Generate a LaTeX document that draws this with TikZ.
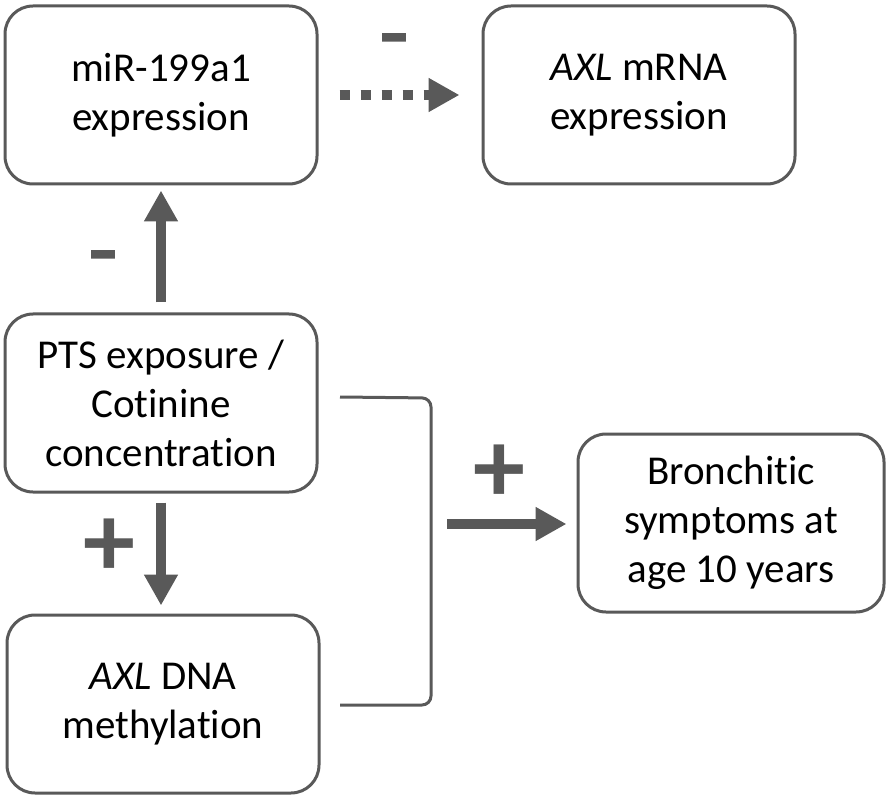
\documentclass[tikz,border=0pt]{standalone}
\usepackage{fontspec}
\setmainfont{Carlito}[Ligatures=NoCommon]
\newfontfamily\signfont{Carlito}[FakeStretch=1.35, FakeBold=2.5]
\usepackage{tikz}
\usetikzlibrary{arrows.meta}
\definecolor{dgray}{HTML}{595959}
\tikzset{box/.style={draw=dgray, line width=3pt, rounded corners=28pt, minimum width=312pt, minimum height=178pt, align=center, inner sep=0pt, font=\fontsize{41}{49}\selectfont},
  sign/.style={text=dgray, inner sep=0pt, font=\fontsize{66}{66}\signfont\bfseries},
  plus/.style={text=dgray, inner sep=0pt, font=\fontsize{104}{104}\selectfont\bfseries},
  fat/.style={dgray, line width=10pt, -{Triangle[width=32pt,length=31pt]}}}

\begin{document}
\begin{tikzpicture}[x=1pt,y=-1pt]
\useasboundingbox (0,0) rectangle (896,799);
% boxes
\node[box] (mir) at (161,95) {miR-199a1\\expression};
\node[box] (mrna) at (639,95) {\textit{AXL} mRNA\\expression};
\node[box] (pts) at (161,403) {PTS exposure /\\Cotinine\\concentration};
\node[box] (dna) at (163,704) {\textit{AXL} DNA\\methylation};
\node[box, minimum width=306pt] (bron) at (731,523) {Bronchitic\\symptoms at\\age 10 years};
% arrows
\draw[fat, shorten <=10pt, shorten >=5pt] (pts) -- (mir);
\draw[fat, dash pattern=on 10pt off 11pt, shorten <=21pt, shorten >=22pt] (mir) -- (mrna);
\draw[fat, shorten <=9pt, shorten >=8pt] (pts.south) -- (pts.south |- dna.north);
% bracket
\draw[dgray, line width=3pt, rounded corners=9pt] (340,397) -- (431,398) -- (431,705) -- (340,705);
\coordinate (jn) at (447,524);
\draw[fat, shorten >=10pt] (jn) -- (jn -| bron.west);
% signs
\node[sign] (s1) at (394,45) {-};
\node[sign] (s2) at (103,262) {-};
\node[plus] (s3) at (109,548) {+};
\node[plus] (s4) at (499,474) {+};
\end{tikzpicture}
\end{document}
